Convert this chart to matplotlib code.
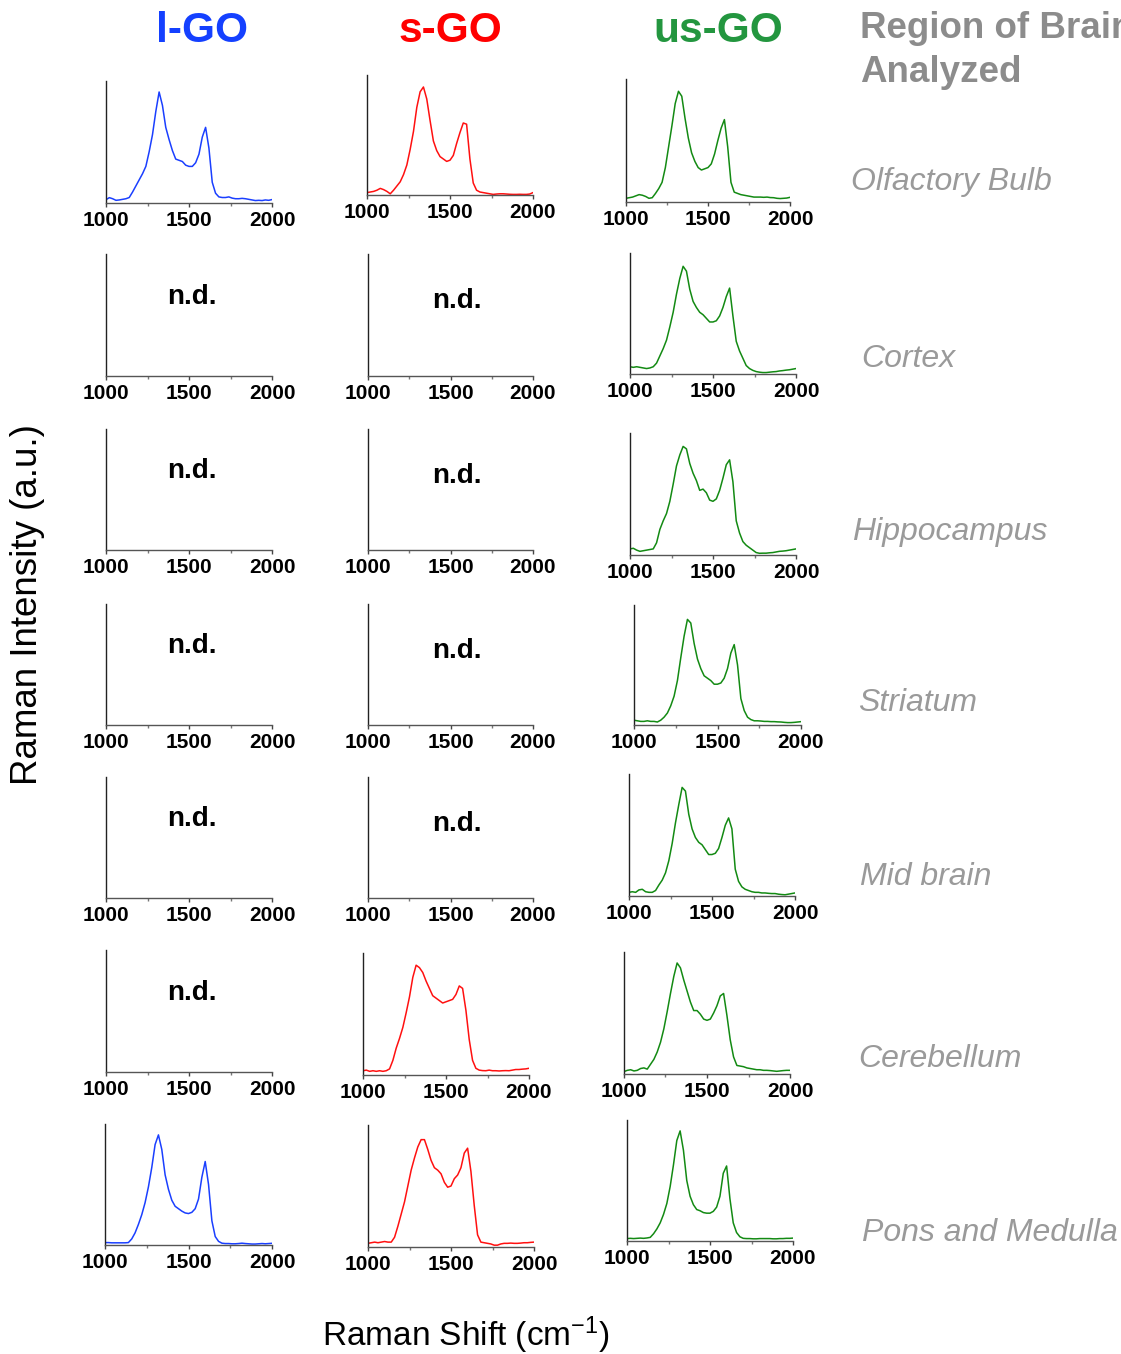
import matplotlib
matplotlib.use("Agg")
import matplotlib.pyplot as plt

plt.rcParams['font.family'] = ['Liberation Sans', 'DejaVu Sans']
plt.rcParams['mathtext.fontset'] = 'custom'
plt.rcParams['mathtext.rm'] = 'Liberation Sans'
plt.rcParams['mathtext.it'] = 'Liberation Sans:italic'

# ---------------- data ----------------
shift = [1000, 1020, 1040, 1060, 1080, 1100, 1120, 1140, 1160, 1180,
         1200, 1220, 1240, 1260, 1280, 1300, 1320, 1340, 1360, 1380,
         1400, 1420, 1440, 1460, 1480, 1500, 1520, 1540, 1560, 1580,
         1600, 1620, 1640, 1660, 1680, 1700, 1720, 1740, 1760, 1780,
         1800, 1820, 1840, 1860, 1880, 1900, 1920, 1940, 1960, 1980, 2000]

materials = ['l-GO', 's-GO', 'us-GO']
regions = ['Olfactory Bulb', 'Cortex', 'Hippocampus', 'Striatum',
           'Mid brain', 'Cerebellum', 'Pons and Medulla']
tick_values = [1000, 1500, 2000]
minor_tick_values = [1250, 1750]

lgo_olfactory = [0.027, 0.044, 0.035, 0.022, 0.025, 0.030, 0.035, 0.045, 0.09, 0.14,
                 0.19, 0.24, 0.30, 0.42, 0.56, 0.75, 0.91, 0.80, 0.62, 0.52,
                 0.43, 0.36, 0.35, 0.34, 0.31, 0.30, 0.30, 0.33, 0.40, 0.54,
                 0.62, 0.45, 0.17, 0.08, 0.05, 0.045, 0.045, 0.05, 0.04, 0.035,
                 0.035, 0.038, 0.035, 0.03, 0.025, 0.02, 0.022, 0.02, 0.025, 0.022, 0.028]
sgo_olfactory = [0.02, 0.025, 0.03, 0.04, 0.055, 0.045, 0.03, 0.01, 0.04, 0.075,
                 0.11, 0.17, 0.25, 0.38, 0.53, 0.73, 0.86, 0.90, 0.80, 0.62,
                 0.45, 0.37, 0.32, 0.30, 0.28, 0.29, 0.33, 0.43, 0.52, 0.60,
                 0.59, 0.30, 0.10, 0.04, 0.025, 0.02, 0.015, 0.01, 0.005, 0.008,
                 0.01, 0.01, 0.008, 0.006, 0.005, 0.005, 0.006, 0.005, 0.005, 0.008, 0.02]
usgo_olfactory = [0.03, 0.035, 0.04, 0.05, 0.06, 0.055, 0.045, 0.03, 0.035, 0.07,
                  0.11, 0.16, 0.28, 0.45, 0.62, 0.80, 0.90, 0.86, 0.68, 0.52,
                  0.40, 0.33, 0.28, 0.26, 0.27, 0.28, 0.31, 0.39, 0.50, 0.60,
                  0.67, 0.45, 0.16, 0.08, 0.07, 0.06, 0.055, 0.05, 0.045, 0.04,
                  0.04, 0.04, 0.038, 0.04, 0.036, 0.035, 0.03, 0.028, 0.03, 0.032, 0.038]
usgo_cortex = [0.06, 0.055, 0.06, 0.055, 0.05, 0.045, 0.05, 0.06, 0.09, 0.15,
               0.21, 0.28, 0.39, 0.51, 0.66, 0.79, 0.89, 0.85, 0.70, 0.60,
               0.55, 0.51, 0.49, 0.46, 0.43, 0.43, 0.44, 0.48, 0.55, 0.64,
               0.71, 0.48, 0.27, 0.19, 0.13, 0.07, 0.045, 0.03, 0.02, 0.015,
               0.012, 0.012, 0.015, 0.018, 0.02, 0.025, 0.028, 0.032, 0.035, 0.04, 0.045]
usgo_hippocampus = [0.05, 0.055, 0.04, 0.03, 0.035, 0.04, 0.045, 0.05, 0.10, 0.21,
                    0.28, 0.34, 0.44, 0.58, 0.73, 0.82, 0.89, 0.87, 0.75, 0.67,
                    0.61, 0.53, 0.54, 0.51, 0.45, 0.44, 0.46, 0.53, 0.63, 0.74,
                    0.78, 0.60, 0.28, 0.18, 0.11, 0.08, 0.06, 0.04, 0.02, 0.014,
                    0.015, 0.015, 0.018, 0.02, 0.025, 0.03, 0.032, 0.035, 0.04, 0.045, 0.05]
usgo_striatum = [0.04, 0.035, 0.03, 0.03, 0.035, 0.03, 0.03, 0.025, 0.04, 0.065,
                 0.10, 0.16, 0.24, 0.37, 0.56, 0.74, 0.88, 0.85, 0.68, 0.55,
                 0.47, 0.41, 0.39, 0.37, 0.34, 0.34, 0.35, 0.39, 0.47, 0.60,
                 0.67, 0.50, 0.22, 0.12, 0.065, 0.045, 0.035, 0.035, 0.033, 0.03,
                 0.03, 0.028, 0.028, 0.026, 0.025, 0.022, 0.02, 0.02, 0.022, 0.025, 0.028]
usgo_midbrain = [0.03, 0.035, 0.03, 0.05, 0.055, 0.035, 0.03, 0.03, 0.045, 0.09,
                 0.13, 0.19, 0.29, 0.43, 0.60, 0.75, 0.89, 0.86, 0.67, 0.55,
                 0.48, 0.44, 0.42, 0.38, 0.34, 0.34, 0.35, 0.39, 0.48, 0.58,
                 0.64, 0.55, 0.22, 0.12, 0.075, 0.055, 0.045, 0.035, 0.03, 0.03,
                 0.025, 0.025, 0.022, 0.02, 0.02, 0.015, 0.012, 0.01, 0.015, 0.02, 0.025]
sgo_cerebellum = [0.035, 0.04, 0.03, 0.035, 0.03, 0.035, 0.03, 0.035, 0.05, 0.12,
                  0.22, 0.30, 0.39, 0.51, 0.64, 0.80, 0.90, 0.88, 0.84, 0.77,
                  0.71, 0.65, 0.63, 0.61, 0.59, 0.60, 0.61, 0.62, 0.66, 0.73,
                  0.71, 0.53, 0.29, 0.12, 0.055, 0.04, 0.036, 0.035, 0.04, 0.035,
                  0.035, 0.033, 0.035, 0.036, 0.035, 0.04, 0.045, 0.045, 0.048, 0.05, 0.055]
usgo_cerebellum = [0.02, 0.03, 0.035, 0.025, 0.03, 0.045, 0.05, 0.04, 0.08, 0.12,
                   0.18, 0.26, 0.37, 0.51, 0.66, 0.80, 0.91, 0.87, 0.77, 0.68,
                   0.59, 0.52, 0.52, 0.49, 0.45, 0.44, 0.45, 0.50, 0.56, 0.64,
                   0.66, 0.48, 0.28, 0.14, 0.07, 0.065, 0.06, 0.05, 0.045, 0.04,
                   0.035, 0.035, 0.03, 0.03, 0.028, 0.025, 0.022, 0.025, 0.028, 0.03, 0.03]
lgo_pons = [0.02, 0.02, 0.018, 0.018, 0.018, 0.018, 0.018, 0.02, 0.05, 0.10,
            0.17, 0.25, 0.35, 0.48, 0.64, 0.83, 0.91, 0.79, 0.58, 0.46,
            0.37, 0.32, 0.30, 0.28, 0.265, 0.26, 0.27, 0.30, 0.38, 0.56,
            0.69, 0.50, 0.20, 0.07, 0.03, 0.015, 0.012, 0.012, 0.01, 0.01,
            0.012, 0.015, 0.012, 0.01, 0.008, 0.008, 0.01, 0.012, 0.01, 0.012, 0.014]
sgo_pons = [0.03, 0.035, 0.04, 0.035, 0.04, 0.045, 0.04, 0.04, 0.08, 0.17,
            0.27, 0.37, 0.50, 0.63, 0.73, 0.82, 0.88, 0.88, 0.80, 0.71,
            0.65, 0.63, 0.60, 0.53, 0.49, 0.50, 0.56, 0.59, 0.65, 0.77,
            0.81, 0.62, 0.34, 0.10, 0.04, 0.035, 0.03, 0.025, 0.015, 0.015,
            0.025, 0.03, 0.03, 0.032, 0.03, 0.03, 0.032, 0.035, 0.035, 0.038, 0.04]
usgo_pons = [0.02, 0.022, 0.02, 0.022, 0.024, 0.022, 0.025, 0.03, 0.06, 0.10,
             0.15, 0.22, 0.31, 0.45, 0.63, 0.83, 0.91, 0.75, 0.50, 0.37,
             0.30, 0.26, 0.25, 0.235, 0.23, 0.23, 0.245, 0.28, 0.37, 0.56,
             0.62, 0.35, 0.15, 0.07, 0.035, 0.022, 0.02, 0.02, 0.018, 0.018,
             0.02, 0.02, 0.02, 0.02, 0.018, 0.018, 0.02, 0.02, 0.022, 0.022, 0.024]

# spectra grid: rows = regions, cols = materials (None = not detected)
spectra = [
    [lgo_olfactory, sgo_olfactory, usgo_olfactory],
    [None, None, usgo_cortex],
    [None, None, usgo_hippocampus],
    [None, None, usgo_striatum],
    [None, None, usgo_midbrain],
    [None, sgo_cerebellum, usgo_cerebellum],
    [lgo_pons, sgo_pons, usgo_pons],
]

# ---------------- layout (pixel boxes: left, right, top, bottom) ----------------
W, H = 1121, 1354
boxes = [
    [(106, 272, 81, 203), (367, 533, 75, 195), (626, 790, 79, 202)],
    [(106, 272, 254, 376), (368, 533, 254, 376), (630, 796, 253, 374)],
    [(106, 272, 429, 550), (368, 533, 429, 550), (630, 796, 433, 555)],
    [(106, 272, 604, 725), (368, 533, 604, 725), (634, 801, 605, 725)],
    [(106, 272, 777, 898), (368, 533, 777, 898), (629, 795, 774, 896)],
    [(106, 272, 950, 1072), (363, 529, 953, 1075), (624, 790, 952, 1074)],
    [(105, 272, 1124, 1245), (368, 534, 1125, 1247), (627, 793, 1120, 1241)],
]
nd_pos = [(0.52, 0.65), (0.54, 0.615)]  # relative position of "n.d." (col 0, col 1)
line_colors = ['#1a3fff', '#ff1010', '#138a13']
title_colors = ['#1440ff', '#ff0000', '#23963f']
title_x = [202, 450, 718]
region_pos = [(851, 182), (861, 359), (852, 532), (858, 703),
              (860, 877), (858, 1059), (862, 1233)]

fig = plt.figure(figsize=(W / 100, H / 100), dpi=100)

for r in range(len(regions)):
    for c in range(len(materials)):
        l, rt, t, b = boxes[r][c]
        ax = fig.add_axes([l / W, 1 - b / H, (rt - l) / W, (b - t) / H])
        ax.set_xlim(1000, 2000)
        ax.set_ylim(0, 1)
        for s in ['top', 'right']:
            ax.spines[s].set_visible(False)
        ax.spines['left'].set_color('#222222')
        ax.spines['bottom'].set_color('#555555')
        for s in ['left', 'bottom']:
            ax.spines[s].set_linewidth(1.0)
        ax.set_yticks([])
        ax.set_xticks(tick_values)
        ax.set_xticks(minor_tick_values, minor=True)
        ax.tick_params(axis='x', which='major', direction='out', length=3,
                       width=1, color='#444444', pad=2.5)
        ax.tick_params(axis='x', which='minor', direction='out', length=2,
                       width=1, color='#777777')
        ax.set_xticklabels([str(v) for v in tick_values], fontsize=15,
                           fontweight='bold')
        ax.patch.set_alpha(0)
        data = spectra[r][c]
        if data is None:
            px, py = nd_pos[c]
            ax.text(px, py, 'n.d.', transform=ax.transAxes, ha='center',
                    va='center', fontsize=20, fontweight='bold')
        else:
            ax.plot(shift, data, color=line_colors[c], lw=1.1)

for c, name in enumerate(materials):
    fig.text(title_x[c] / W, 1 - 31 / H, name, color=title_colors[c],
             fontsize=30.5, fontweight='bold', ha='center', va='center')

fig.text(860 / W, 1 - 28 / H, 'Region of Brain', color='#8c8c8c',
         fontsize=26.5, fontweight='bold', ha='left', va='center')
fig.text(860 / W, 1 - 72 / H, 'Analyzed', color='#8c8c8c',
         fontsize=26.5, fontweight='bold', ha='left', va='center')

for name, (x, y) in zip(regions, region_pos):
    fig.text(x / W, 1 - y / H, name, color='#9a9a9a', fontsize=23,
             style='italic', ha='left', va='center')

fig.text(28 / W, 1 - 605 / H, 'Raman Intensity (a.u.)', rotation=90,
         fontsize=26.5, ha='center', va='center')
fig.text(466 / W, 1 - 1335 / H, 'Raman Shift (cm$^{-1}$)',
         fontsize=24, ha='center', va='center')

fig.savefig('out.png', dpi=100)
